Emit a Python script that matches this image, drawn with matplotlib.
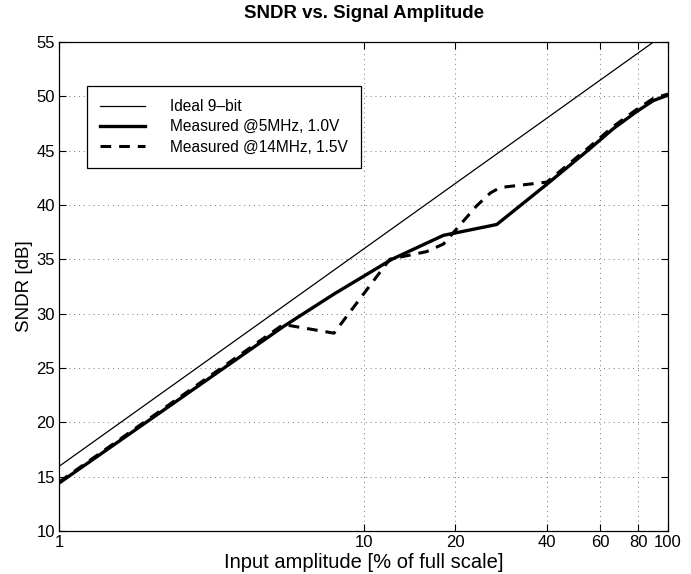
import matplotlib
matplotlib.use("Agg")
import matplotlib.pyplot as plt
from matplotlib.ticker import FixedLocator, FixedFormatter, NullLocator

plt.rcParams['font.family'] = ['Liberation Sans', 'DejaVu Sans']

# Data
ideal_x = [1, 100]
ideal_y = [15.94, 55.94]

meas5_x = [1, 5.45, 8.0, 12.4, 18.3, 27.4, 40, 55, 66, 79, 89.5, 100]
meas5_y = [14.4, 28.8, 31.8, 35.0, 37.2, 38.2, 41.9, 45.1, 47.0, 48.6, 49.6, 50.1]

meas14_x = [1, 5.45, 8.0, 12.2, 16.1, 18.3, 23.5, 26.1, 28.1, 40, 55, 66, 79, 89.5, 100]
meas14_y = [14.5, 29.0, 28.2, 35.0, 35.7, 36.4, 39.9, 41.1, 41.6, 42.1, 45.3, 47.2, 48.8, 49.8, 50.2]

xticks = [1, 10, 20, 40, 60, 80, 100]
xticklabels = ["1", "10", "20", "40", "60", "80", "100"]
yticks = [10, 15, 20, 25, 30, 35, 40, 45, 50, 55]

labels = ["Ideal 9\u2013bit", "Measured @5MHz, 1.0V", "Measured @14MHz, 1.5V"]

fig = plt.figure(figsize=(6.91, 5.74), dpi=100)
ax = fig.add_axes([0.0854, 0.075, 0.8813, 0.852])

ax.plot(ideal_x, ideal_y, color='black', lw=0.9, label=labels[0])
ax.plot(meas5_x, meas5_y, color='black', lw=2.4, label=labels[1])
ax.plot(meas14_x, meas14_y, color='black', lw=2.2, ls=(0, (3.5, 2.6)), label=labels[2])

ax.set_xscale('log')
ax.set_xlim(1, 100)
ax.set_ylim(10, 55)
ax.xaxis.set_major_locator(FixedLocator(xticks))
ax.xaxis.set_major_formatter(FixedFormatter(xticklabels))
ax.xaxis.set_minor_locator(NullLocator())
ax.set_yticks(yticks)

ax.grid(True, which='major', ls=(0, (1, 4)), color='#777777', lw=0.7)
ax.tick_params(direction='in', top=True, right=True, length=5, width=0.8,
               labelsize=12, pad=3)
for s in ax.spines.values():
    s.set_linewidth(0.9)

ax.set_xlabel("Input amplitude [% of full scale]", fontsize=14.5, labelpad=2)
ax.set_ylabel("SNDR [dB]", fontsize=13.5, labelpad=2)
ax.set_title("SNDR vs. Signal Amplitude", fontsize=13.4, fontweight='bold', pad=17)

leg = ax.legend(loc='upper left', bbox_to_anchor=(0.046, 0.910), fontsize=11.2,
                frameon=True, fancybox=False, edgecolor='black', framealpha=1,
                handlelength=2.9, handletextpad=1.6, labelspacing=0.33,
                borderpad=0.85, borderaxespad=0)
leg.get_frame().set_linewidth(0.9)

fig.savefig("out.png", dpi=100)
